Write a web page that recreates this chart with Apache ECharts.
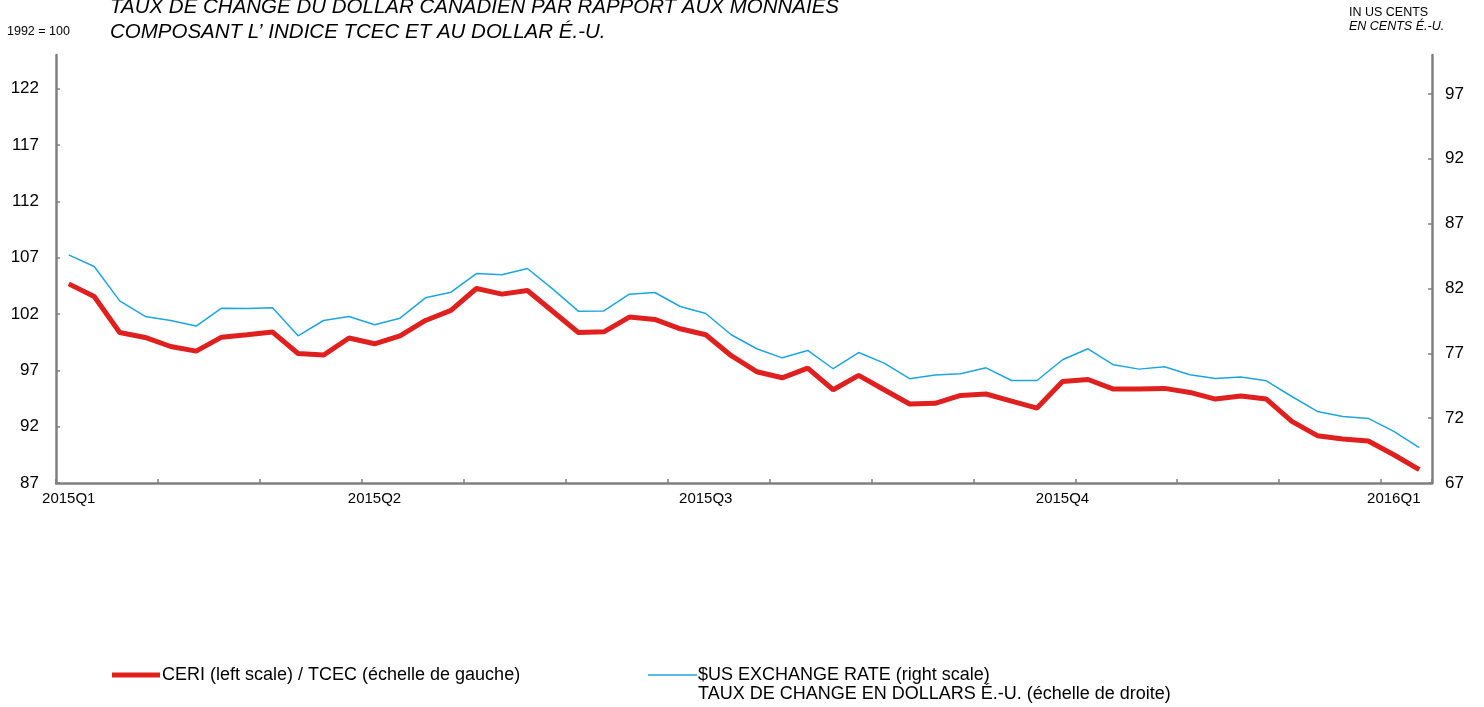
<!DOCTYPE html>
<html>
<head>
<meta charset="utf-8">
<script src="https://cdn.jsdelivr.net/npm/echarts@6/dist/echarts.min.js"></script>
<style>
  html, body { margin: 0; padding: 0; background: #fff; }
  #chart { width: 1484px; height: 707px; }
</style>
</head>
<body>
<div id="chart"></div>
<script>
// weekly observations, Jan 2015 - Jan 2016
var weeks = [
  '2015-01-02', '2015-01-09', '2015-01-16', '2015-01-23', '2015-01-30', '2015-02-06',
  '2015-02-13', '2015-02-20', '2015-02-27', '2015-03-06', '2015-03-13', '2015-03-20',
  '2015-03-27', '2015-04-03', '2015-04-10', '2015-04-17', '2015-04-24', '2015-05-01',
  '2015-05-08', '2015-05-15', '2015-05-22', '2015-05-29', '2015-06-05', '2015-06-12',
  '2015-06-19', '2015-06-26', '2015-07-03', '2015-07-10', '2015-07-17', '2015-07-24',
  '2015-07-31', '2015-08-07', '2015-08-14', '2015-08-21', '2015-08-28', '2015-09-04',
  '2015-09-11', '2015-09-18', '2015-09-25', '2015-10-02', '2015-10-09', '2015-10-16',
  '2015-10-23', '2015-10-30', '2015-11-06', '2015-11-13', '2015-11-20', '2015-11-27',
  '2015-12-04', '2015-12-11', '2015-12-18', '2015-12-25', '2016-01-01', '2016-01-08'
];

// CERI, 1992 = 100 (left scale)
var ceri = [
  104.68, 103.56, 100.36, 99.92, 99.12, 98.71, 99.95, 100.16, 100.40, 98.50, 98.36, 99.87,
  99.36, 100.07, 101.43, 102.32, 104.27, 103.77, 104.09, 102.23, 100.36, 100.42, 101.73, 101.52,
  100.69, 100.16, 98.30, 96.88, 96.34, 97.20, 95.28, 96.55, 95.28, 94.01, 94.07, 94.77,
  94.90, 94.27, 93.65, 96.02, 96.19, 95.34, 95.34, 95.40, 95.04, 94.45, 94.72, 94.45,
  92.47, 91.20, 90.90, 90.73, 89.51, 88.18
];

// $US exchange rate, US cents (right scale)
var usd = [
  84.59, 83.69, 81.04, 79.84, 79.53, 79.10, 80.48, 80.45, 80.51, 78.35, 79.53, 79.84,
  79.20, 79.71, 81.28, 81.71, 83.15, 83.05, 83.54, 81.95, 80.25, 80.27, 81.56, 81.69,
  80.61, 80.07, 78.43, 77.35, 76.65, 77.22, 75.81, 77.06, 76.24, 75.04, 75.32, 75.42,
  75.88, 74.90, 74.90, 76.50, 77.35, 76.11, 75.78, 75.96, 75.34, 75.06, 75.17, 74.88,
  73.67, 72.52, 72.13, 71.98, 70.98, 69.72
];

// quarter labels on the x axis
var quarterWeeks = ['2015-01-02', '2015-03-27', '2015-06-26', '2015-10-02', '2016-01-01'];
var quarterNames = ['2015Q1', '2015Q2', '2015Q3', '2015Q4', '2016Q1'];

var leftTicks = [87, 92, 97, 102, 107, 112, 117, 122];
var rightTicks = [67, 72, 77, 82, 87, 92, 97];

var ceriName = 'CERI (left scale) / TCEC (échelle de gauche)';
var usdName = '$US EXCHANGE RATE (right scale)';
var usdName2 = 'TAUX DE CHANGE EN DOLLARS É.-U. (échelle de droite)';

var FONT = "'Liberation Sans', Arial, sans-serif";
var RED = '#E0201F';
var BLUE = '#1EA5E0';
var AXIS = '#808080';

var chart = echarts.init(document.getElementById('chart'));

var option = {
  animation: false,
  backgroundColor: '#fff',
  textStyle: { fontFamily: FONT },
  grid: { left: 56, right: 52, top: 55, bottom: 224, containLabel: false },
  legend: [
    {
      data: [ceriName],
      left: 112, top: 666, padding: 0,
      icon: 'rect', itemWidth: 48, itemHeight: 5, itemGap: 0,
      textStyle: { fontFamily: FONT, fontSize: 18, color: '#000', padding: [0, 0, 0, -3] }
    },
    {
      data: [usdName],
      left: 648, top: 666, padding: 0,
      icon: 'rect', itemWidth: 49, itemHeight: 1.5, itemGap: 0,
      textStyle: { fontFamily: FONT, fontSize: 18, color: '#000', padding: [0, 0, 0, -4] }
    }
  ],
  graphic: [
    { type: 'text', left: 110, top: -3,
      style: { text: 'TAUX DE CHANGE DU DOLLAR CANADIEN PAR RAPPORT AUX MONNAIES', font: 'italic 20.5px ' + FONT, fill: '#000' } },
    { type: 'text', left: 110, top: 22,
      style: { text: 'COMPOSANT L\u2019 INDICE TCEC ET AU DOLLAR É.-U.', font: 'italic 20.5px ' + FONT, fill: '#000' } },
    { type: 'text', left: 7, top: 25,
      style: { text: '1992 = 100', font: '12.5px ' + FONT, fill: '#000' } },
    { type: 'text', left: 1349, top: 6,
      style: { text: 'IN US CENTS', font: '12.5px ' + FONT, fill: '#000' } },
    { type: 'text', left: 1349, top: 20,
      style: { text: 'EN CENTS É.-U.', font: 'italic 12.5px ' + FONT, fill: '#000' } },
    { type: 'text', left: 698, top: 685,
      style: { text: usdName2, font: '18px ' + FONT, fill: '#000' } }
  ],
  xAxis: {
    type: 'category',
    data: weeks,
    boundaryGap: true,
    axisLine: { lineStyle: { color: AXIS, width: 2.5 } },
    axisTick: { show: true, inside: true, length: 4, interval: 3, lineStyle: { color: AXIS, width: 1.5 } },
    axisLabel: {
      interval: function (idx, val) { return quarterWeeks.indexOf(val) >= 0; },
      formatter: function (val) { return quarterNames[quarterWeeks.indexOf(val)]; },
      fontFamily: FONT, fontSize: 15, color: '#000', margin: 8
    },
    splitLine: { show: false }
  },
  yAxis: [
    {
      type: 'value', position: 'left', min: 87, max: 125,
      axisLine: { show: true, lineStyle: { color: AXIS, width: 2.5 } },
      axisTick: { show: true, inside: true, length: 4, customValues: leftTicks, lineStyle: { color: AXIS, width: 1.5 } },
      axisLabel: { customValues: leftTicks, fontFamily: FONT, fontSize: 17, color: '#000', margin: 17 },
      splitLine: { show: false }
    },
    {
      type: 'value', position: 'right', min: 67, max: 100,
      axisLine: { show: true, lineStyle: { color: AXIS, width: 2.5 } },
      axisTick: { show: true, inside: true, length: 4, customValues: rightTicks, lineStyle: { color: AXIS, width: 1.5 } },
      axisLabel: { customValues: rightTicks, fontFamily: FONT, fontSize: 17, color: '#000', margin: 13 },
      splitLine: { show: false }
    }
  ],
  series: [
    {
      name: ceriName, type: 'line', yAxisIndex: 0, data: ceri,
      symbol: 'none', color: RED,
      lineStyle: { color: RED, width: 5 }
    },
    {
      name: usdName, type: 'line', yAxisIndex: 1, data: usd,
      symbol: 'none', color: BLUE,
      lineStyle: { color: BLUE, width: 1.5 }
    }
  ]
};

chart.setOption(option);
</script>
</body>
</html>
